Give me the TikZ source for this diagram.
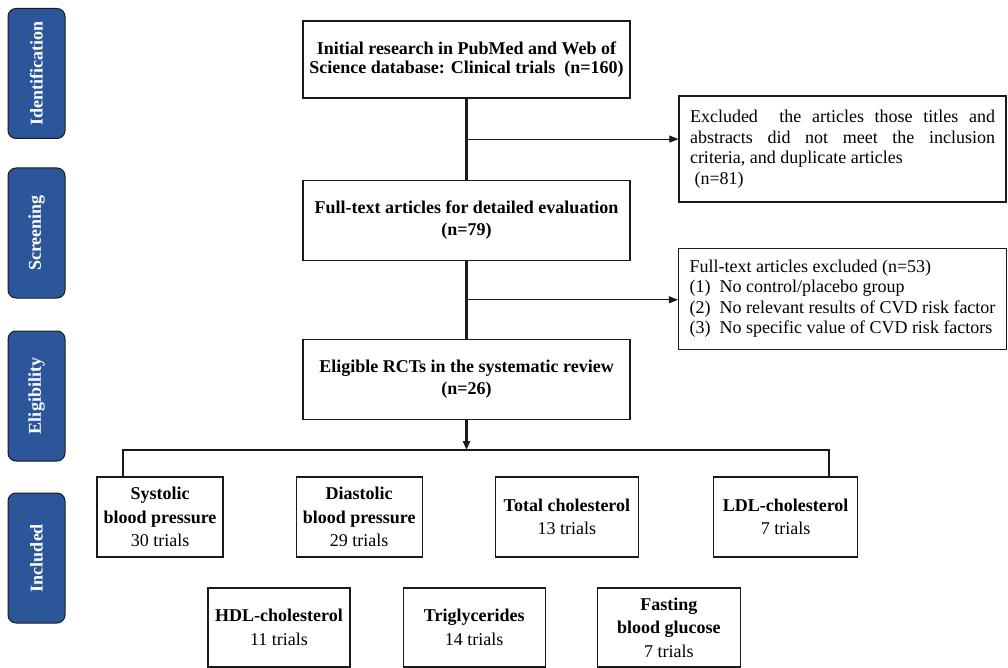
\documentclass[tikz,border=0pt]{standalone}
\usepackage{fontspec}
\setmainfont{Liberation Serif}
\usepackage{tikz}
\usetikzlibrary{positioning,arrows.meta,calc}
\definecolor{stageblue}{HTML}{2B579A}
\definecolor{ink}{HTML}{1A1A1A}
\tikzset{
  mainbox/.style={rectangle,draw=ink,line width=1.2pt,fill=white,align=center,
    inner sep=0pt,minimum width=327pt,minimum height=80pt,
    font=\fontsize{18}{22}\selectfont\bfseries},
  exclbox/.style={rectangle,draw=ink,line width=1.2pt,fill=white,
    inner xsep=11pt,inner ysep=0pt,minimum width=327pt,
    font=\fontsize{18}{20.5}\selectfont},
  trialbox/.style={rectangle,draw=ink,line width=1.2pt,fill=white,align=center,
    inner sep=0pt,minimum height=79pt,font=\fontsize{18}{23.5}\selectfont},
  stage/.style={rectangle,rounded corners=8pt,draw=ink,line width=1pt,fill=stageblue,
    text=white,rotate=90,minimum width=130pt,minimum height=57pt,inner sep=0pt,
    font=\fontsize{18}{22}\selectfont\bfseries},
  ln/.style={line width=2.2pt,draw=ink},
  ar/.style={-{Triangle[length=9pt,width=7pt]},line width=1pt,draw=ink},
}

\begin{document}
\begin{tikzpicture}[x=1pt,y=-1pt,node distance=72pt]
  \useasboundingbox (0,0) rectangle (1008,668);
  % stages
  \foreach \y/\nm/\lab in {73.5/sid/Identification,233/sscr/Screening,
      396/selig/Eligibility,558/sinc/Included}
    \node[stage] (\nm) at (36.5,\y) {\lab};
  % main column
  \node[mainbox,minimum height=77pt,font=\fontsize{18}{19.5}\selectfont\bfseries] (init) at (466.5,59.5)
    {Initial research in PubMed and Web of\\Science database: Clinical trials\ \ (n=160)};
  \node[mainbox,below=81pt of init] (full) {Full-text articles for detailed evaluation\\(n=79)};
  \node[mainbox,below=78pt of full] (elig) {Eligible RCTs in the systematic review\\(n=26)};
  % excluded
  \node[exclbox,text width=305pt,align=justify,minimum height=106pt] (ex1) at (842.5,149)
    {Excluded\ \ the articles those titles and\linebreak
     abstracts did not meet the inclusion\linebreak
     criteria, and duplicate articles\newline
     \hspace*{4.5pt}(n=81)};
  \node[exclbox,align=left,minimum height=101pt,below=45pt of ex1] (ex2)
    {Full-text articles excluded (n=53)\\(1)\ \ No control/placebo group\\
     (2)\ \ No relevant results of CVD risk factor\\(3)\ \ No specific value of CVD risk factors};
  % outcomes
  \node[trialbox,minimum width=126pt,minimum height=80pt] (sbp) at (160,517)
    {\textbf{Systolic}\\\textbf{blood pressure}\\30 trials};
  \node[trialbox,minimum width=126pt,minimum height=80pt,right=of sbp] (dbp)
    {\textbf{Diastolic}\\\textbf{blood pressure}\\29 trials};
  \node[trialbox,minimum width=143pt,minimum height=80pt,right=of dbp] (tc)
    {\textbf{Total cholesterol}\\13 trials};
  \node[trialbox,minimum width=144pt,minimum height=80pt,right=74pt of tc] (ldl)
    {\textbf{LDL-cholesterol}\\7 trials};
  \node[trialbox,minimum width=142pt] (hdl) at (279,627.5)
    {\textbf{HDL-cholesterol}\\11 trials};
  \node[trialbox,minimum width=142pt,right=52pt of hdl] (tg)
    {\textbf{Triglycerides}\\14 trials};
  \node[trialbox,minimum width=143pt,right=51pt of tg] (fbg)
    {\textbf{Fasting}\\\textbf{blood glucose}\\7 trials};
  % connectors
  \coordinate (j1) at ($(init.south)!0.5!(full.north)$);
  \coordinate (j2) at ($(full.south)!0.5!(elig.north)$);
  \coordinate (hub) at ([yshift=-30pt]elig.south);
  \draw[ln] (init) -- (full);
  \draw[ln] (full) -- (elig);
  \draw[ar] (j1) -- (j1 -| ex1.west);
  \draw[ar] (j2) -- (j2 -| ex2.west);
  \draw[ar,line width=2.2pt] (elig) -- (hub);
  \draw[ln] ([xshift=-37pt]sbp.north) |- (hub) -| ([xshift=43pt]ldl.north);
\end{tikzpicture}
\end{document}
